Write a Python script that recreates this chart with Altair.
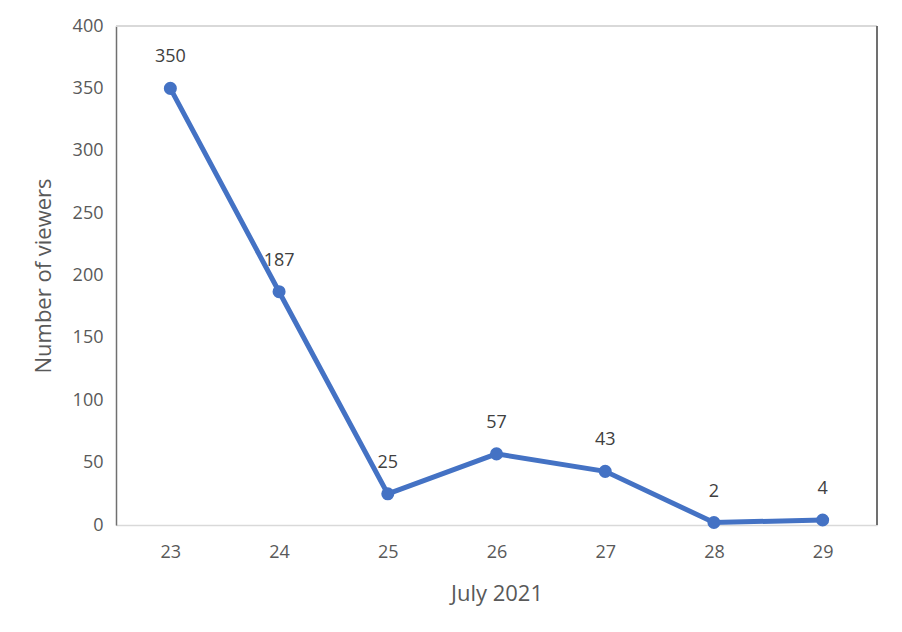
import altair as alt
import pandas as pd

days = ["23", "24", "25", "26", "27", "28", "29"]
viewers = [350, 187, 25, 57, 43, 2, 4]

df = pd.DataFrame({"day": days, "viewers": viewers})

FONT = "Open Sans"
GRAY = "#595959"
BLUE = "#4472C4"

x = alt.X("day:O", sort=days, title="July 2021",
          scale=alt.Scale(type="point", padding=0.5),
          axis=alt.Axis(labelAngle=0, ticks=False, domainColor="#D9D9D9", domainWidth=1.5,
                        labelPadding=18, labelFontSize=18, labelColor=GRAY,
                        titleFontSize=22, titleColor=GRAY, titleFontWeight="normal",
                        titlePadding=22, labelFont=FONT, titleFont=FONT))
y = alt.Y("viewers:Q", title="Number of viewers",
          scale=alt.Scale(domain=[0, 400], nice=False),
          axis=alt.Axis(values=[0, 50, 100, 150, 200, 250, 300, 350, 400], ticks=False,
                        domainColor="#707070", domainWidth=1.5, grid=False,
                        labelPadding=13, labelFontSize=18, labelColor=GRAY,
                        titleFontSize=22, titleColor=GRAY, titleFontWeight="normal",
                        titlePadding=17, labelFont=FONT, titleFont=FONT))

base = alt.Chart(df)

line = base.mark_line(color=BLUE, strokeWidth=5, point=alt.OverlayMarkDef(color=BLUE, size=170, filled=True, opacity=1)).encode(x=x, y=y)

labels = base.mark_text(dy=-31, fontSize=18, color="#404040", font=FONT, baseline="middle").encode(
    x=alt.X("day:O", sort=days), y="viewers:Q", text="viewers:Q")

right_border = alt.Chart(df).mark_rule(color="#707070", strokeWidth=1.5).encode(
    x=alt.value(761), y=alt.value(0), y2=alt.value(499))
top_border = alt.Chart(df).mark_rule(color="#D9D9D9", strokeWidth=1.5).encode(
    x=alt.value(0), x2=alt.value(761), y=alt.value(0))

chart = alt.layer(top_border, right_border, line, labels).properties(
    width=761, height=499,
    autosize=alt.AutoSizeParams(type="none"),
    padding={"left": 108, "top": 18, "right": 17, "bottom": 99},
).configure_view(stroke=None).configure(background="white")

chart.save("out.html", embed_options={"renderer": "svg", "actions": False})
